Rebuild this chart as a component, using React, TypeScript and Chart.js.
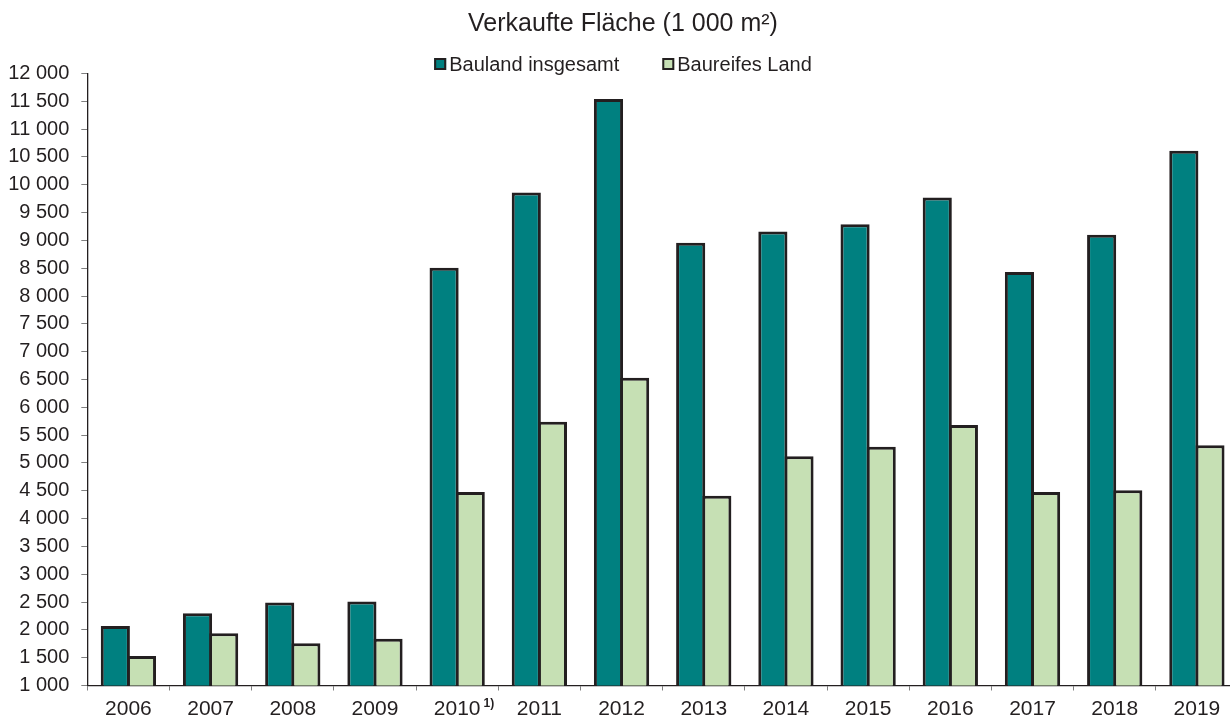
import React, { useEffect, useRef } from "react";
import { Chart, registerables } from "chart.js";

Chart.register(...registerables);

const chartTitle = "Verkaufte Fläche (1 000 m²)";
const categories = ["2006", "2007", "2008", "2009", "2010", "2011", "2012", "2013", "2014", "2015", "2016", "2017", "2018", "2019"];
const categoryFootnotes = ["", "", "", "", "1)", "", "", "", "", "", "", "", "", ""];
const seriesNames = ["Bauland insgesamt", "Baureifes Land"];
const baulandInsgesamt = [2070, 2300, 2490, 2510, 8510, 9860, 11540, 8960, 9160, 9290, 9770, 8430, 9100, 10610];
const baureifesLand = [1530, 1940, 1760, 1840, 4480, 5740, 6530, 4410, 5120, 5290, 5680, 4480, 4510, 5320];
const yMin = 1000;
const yMax = 12000;
const yStep = 500;

const FONT = "'Liberation Sans', Arial, Helvetica, sans-serif";
const TEXT = "#231f20";
const EDGE = "#231f20";
const COLORS = ["#008080", "#c6e0b4"];

const fmt = (v: number) => String(Math.round(v)).replace(/\B(?=(\d{3})+(?!\d))/g, " ");

const customLegend = {
  id: "customLegend",
  afterDraw(chart: any) {
    const ctx = chart.ctx;
    const padL = chart.options.layout?.padding?.left ?? 0;
    const cx = (padL + chart.width) / 2;
    const y = 64;
    const box = 12;
    const gapText = 3;
    const gapItem = 43;
    ctx.save();
    ctx.font = `20px ${FONT}`;
    const items = chart.data.datasets.map((d: any) => ({
      label: d.label,
      color: d.backgroundColor,
      w: box + gapText + ctx.measureText(d.label).width,
    }));
    const total = items.reduce((s: number, it: any) => s + it.w, 0) + gapItem * (items.length - 1);
    let x = cx - total / 2;
    ctx.textBaseline = "middle";
    ctx.textAlign = "left";
    for (const it of items) {
      ctx.fillStyle = it.color;
      ctx.fillRect(x, y - box / 2, box, box);
      ctx.lineWidth = 2;
      ctx.strokeStyle = EDGE;
      ctx.strokeRect(x + 1, y - box / 2 + 1, box - 2, box - 2);
      ctx.fillStyle = TEXT;
      ctx.fillText(it.label, x + box + gapText, y + 1);
      x += it.w + gapItem;
    }
    ctx.restore();
  },
};

const footnotePlugin = {
  id: "footnotes",
  afterDraw(chart: any) {
    const xs = chart.scales.x;
    const ctx = chart.ctx;
    ctx.save();
    categoryFootnotes.forEach((note, i) => {
      if (!note) return;
      ctx.font = `21px ${FONT}`;
      const w = ctx.measureText(categories[i]).width;
      const x = xs.getPixelForTick(i) + w / 2 + 3;
      ctx.font = `bold 12px ${FONT}`;
      ctx.fillStyle = TEXT;
      ctx.textAlign = "left";
      ctx.textBaseline = "alphabetic";
      ctx.fillText(note, x, xs.top + 21);
    });
    ctx.restore();
  },
};

export default function App() {
  const ref = useRef<HTMLCanvasElement | null>(null);

  useEffect(() => {
    document.documentElement.style.overflow = "hidden";
    document.body.style.overflow = "hidden";
    if (!ref.current) return;
    const chart = new Chart(ref.current, {
      type: "bar",
      data: {
        labels: categories,
        datasets: [
          {
            label: seriesNames[0],
            data: baulandInsgesamt,
            backgroundColor: COLORS[0],
            borderColor: EDGE,
            borderWidth: 3,
            borderSkipped: false,
            categoryPercentage: 0.636,
            barPercentage: 1.115,
          },
          {
            label: seriesNames[1],
            data: baureifesLand,
            backgroundColor: COLORS[1],
            borderColor: EDGE,
            borderWidth: 3,
            borderSkipped: false,
            categoryPercentage: 0.636,
            barPercentage: 1.115,
          },
        ],
      },
      options: {
        responsive: false,
        animation: false,
        devicePixelRatio: 1,
        layout: { padding: { left: 8, right: 0, top: 0, bottom: 0 } },
        plugins: {
          legend: { display: false },
          tooltip: { enabled: false },
          title: {
            display: true,
            text: chartTitle,
            color: TEXT,
            font: { family: FONT, size: 25, weight: "normal", lineHeight: 1.2 },
            padding: { top: 9, bottom: 34.5 },
          },
        },
        scales: {
          x: {
            afterFit: (s: any) => {
              s.height = 33.5;
            },
            border: { display: true, color: EDGE, width: 1.3 },
            grid: { display: true, offset: true, drawOnChartArea: false, drawTicks: true, tickLength: 5, color: "#808080", lineWidth: 1 },
            ticks: { padding: 6, color: TEXT, font: { family: FONT, size: 21 }, maxRotation: 0, autoSkip: false },
          },
          y: {
            min: yMin,
            max: yMax,
            afterFit: (s: any) => {
              s.width = 79.3;
            },
            border: { display: true, color: EDGE, width: 1.3 },
            grid: { display: true, drawOnChartArea: false, drawTicks: true, tickLength: 6, color: "#808080", lineWidth: 1 },
            ticks: {
              stepSize: yStep,
              autoSkip: false,
              maxTicksLimit: 100,
              padding: 12,
              color: TEXT,
              font: { family: FONT, size: 20 },
              callback: (v: any) => fmt(Number(v)),
            },
          },
        },
      },
      plugins: [customLegend, footnotePlugin],
    });
    return () => chart.destroy();
  }, []);

  return (
    <div style={{ position: "fixed", left: 0, top: 0, width: 1238, height: 719, background: "#fff" }}>
      <canvas ref={ref} width={1238} height={719} style={{ display: "block" }} />
    </div>
  );
}
